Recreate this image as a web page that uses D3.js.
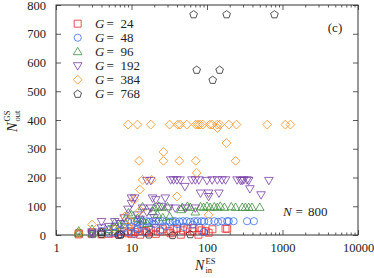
<!DOCTYPE html>
<html><head><meta charset="utf-8">
<script src="https://cdn.jsdelivr.net/npm/d3@7"></script>
<style>
body{margin:0;background:#fff}
svg{display:block}
</style>
</head><body>
<svg id="c" width="374" height="278"></svg>
<script>
// ---- data ----
const xTicks = [1, 10, 100, 1000, 10000];
const yTicks = [0, 100, 200, 300, 400, 500, 600, 700, 800];
const groupLabels = ["24", "48", "96", "192", "384", "768"];
const colors = ["#e8292b", "#3a6fe8", "#3f8f3f", "#7a3fa8", "#ff8c1a", "#2a2a2a"];
const shapes = ["square", "circle", "triUp", "triDown", "diamond", "pentagon"];

const g24 = [[2,2],[2,6],[3,3],[3,8],[4,2],[4,10],[5,4],[6,6],[7,2],[8,12],[9,6],[9.8,13],[10,3],[11,10],[12,20],[13,1],[14,14],[15.5,13],[16,8],[18,18],[21,24],[21,4],[24,12],[26,20],[31,13],[33,6],[36,20],[40,22],[45,1],[48,16],[55,22],[64,13],[66,24],[77,1],[78,24],[85,16],[96,13],[105,8],[118,20],[176,22],[185,22]];
const g48 = [[9,46],[10,46],[11,48],[12,46],[13,48],[14,47],[16,48],[17,46],[19,48],[21,48],[23,47],[26,48],[29,48],[32,46],[35,48],[38,48],[43,47],[48,48],[54,48],[60,46],[68,48],[75,48],[85,48],[92,47],[105,48],[125,48],[140,46],[158,48],[185,48],[194,48],[225,48],[339,48],[418,48],
  [3,3],[4,14],[5,6],[5,20],[6,8],[6,30],[7,16],[7,2],[8,24],[8,38],[9,10],[10,30],[11,4],[12,20],[13,36],[15,10],[17,28],[20,38],[24,16],[28,30],[40,38],[50,28],[65,36],[90,10]];
const g96 = [[14,98],[20,95],[23,100],[25,96],[30,98],[47,96],[55,100],[60,96],[82,98],[90,96],[100,100],[110,96],[125,98],[137,96],[150,100],[170,96],[210,98],[239,96],[293,96],[323,96],[357,96],[395,96],[500,96],
  [2,6],[2,14],[3,4],[3,20],[4,10],[5,18],[6,26],[6,43],[7,34],[8,50],[9.1,77],[10,70],[12,58],[14,52],[16,40],[19,82],[22,72],[26,60],[32,64],[45,88],[70,80]];
const g192 = [[16,190],[18,190],[33,192],[36,192],[40,192],[44,192],[63,192],[70,192],[78,192],[100,190],[117,192],[137,192],[158,192],[176,192],[250,192],[278,190],[292,190],[307,192],[340,192],[357,190],[660,190],
  [51,169],[370,161],[520,140],[82,146],[105,146],[144,146],[105,134],[10,129],[11,129],[19,129],[28,129],[21,123],[31,94],[38,94],[52,94],[70,94],[14,94],[18,94],[25,100],
  [4,47],[6,47],[3,11],[3,5],[4,25],[5,30],[7,40],[8,60],[9,90],[10,110],[12,70],[13,55],[16,80],[20,60]];
const g384 = [[9,384],[12,384],[18,384],[32,384],[41,384],[44,384],[54,384],[71,384],[76,384],[81,384],[88,384],[109,384],[117,384],[137,372],[137,384],[148,384],[195,384],[246,384],[627,384],[1092,384],[1271,384],
  [26.5,289],[12.6,258],[26.5,258],[43,258],[71,258],[239,258],[181,320],[73,216],[14,192],[18.5,192],[12.9,158],[10.9,123],[40,134],[105,70],[3,36],[2,7],[8.2,65],[6,20],[10,45],[13,85],[9,30]];
const g768 = [[66.5,768],[182,768],[782,768],[73,575],[147,575],[119,540],[4,4],[4,10],[6.7,1],[7.2,2],[17,2],[35,0],[60,3]];
const seriesData = [g24, g48, g96, g192, g384, g768];

// ---- layout ----
const FONT = "'Liberation Serif', 'Times New Roman', serif";
const L = 56, R = 358, T = 5, B = 235;
const svg = d3.select("#c");
const x = d3.scaleLog().domain([1, 10000]).range([L, R]);
const y = d3.scaleLinear().domain([0, 800]).range([B, T]);

function shapePath(t) {
  const p = d3.path();
  if (t === "square") { p.rect(-3.5, -3.5, 7, 7); }
  else if (t === "circle") { p.arc(0, 0, 3.6, 0, 2 * Math.PI); p.closePath(); }
  else if (t === "triUp") { p.moveTo(0, -4.4); p.lineTo(4.3, 3); p.lineTo(-4.3, 3); p.closePath(); }
  else if (t === "triDown") { p.moveTo(0, 4.4); p.lineTo(4.3, -3); p.lineTo(-4.3, -3); p.closePath(); }
  else if (t === "diamond") { p.moveTo(0, -4.4); p.lineTo(4.4, 0); p.lineTo(0, 4.4); p.lineTo(-4.4, 0); p.closePath(); }
  else if (t === "pentagon") {
    for (let i = 0; i < 5; i++) {
      const a = -Math.PI / 2 + i * 2 * Math.PI / 5;
      const px = 4 * Math.cos(a), py = 4 * Math.sin(a) + 0.4;
      if (i === 0) p.moveTo(px, py); else p.lineTo(px, py);
    }
    p.closePath();
  }
  return p.toString();
}

function txt(parent, xx, yy, s, size, italic) {
  return parent.append("text").attr("x", xx).attr("y", yy)
    .style("font-family", FONT).style("font-size", size + "px")
    .style("font-style", italic ? "italic" : "normal").attr("fill", "#222").text(s);
}

// axes
const minor = [];
for (let e = 0; e < 4; e++) for (let m = 2; m <= 9; m++) minor.push(m * Math.pow(10, e));

function styleAxis(g) {
  g.attr("font-family", null);
  g.select(".domain").remove();
  g.selectAll(".tick line").attr("stroke", "#333").attr("stroke-width", 0.8);
  g.selectAll("text").style("font-family", FONT).style("font-size", "12.5px").attr("fill", "#222");
}
svg.append("g").attr("transform", `translate(0,${B})`)
  .call(d3.axisBottom(x).tickValues(xTicks).tickFormat(d3.format("d")).tickSize(-5).tickPadding(8)).call(styleAxis);
svg.append("g").attr("transform", `translate(0,${B})`)
  .call(d3.axisBottom(x).tickValues(minor).tickFormat("").tickSize(-2.5)).call(styleAxis);
svg.append("g").attr("transform", `translate(0,${T})`)
  .call(d3.axisTop(x).tickValues(xTicks).tickFormat("").tickSize(-5)).call(styleAxis);
svg.append("g").attr("transform", `translate(0,${T})`)
  .call(d3.axisTop(x).tickValues(minor).tickFormat("").tickSize(-2.5)).call(styleAxis);
svg.append("g").attr("transform", `translate(${L},0)`)
  .call(d3.axisLeft(y).tickValues(yTicks).tickSize(-5).tickPadding(10)).call(styleAxis);
svg.append("g").attr("transform", `translate(${R},0)`)
  .call(d3.axisRight(y).tickValues(yTicks).tickFormat("").tickSize(-5)).call(styleAxis);

svg.append("rect").attr("x", L).attr("y", T).attr("width", R - L).attr("height", B - T)
  .attr("fill", "none").attr("stroke", "#333").attr("stroke-width", 1);

// points
seriesData.forEach((data, i) => {
  svg.append("g").selectAll("path").data(data).join("path")
    .attr("transform", d => `translate(${x(d[0])},${y(d[1])})`)
    .attr("d", shapePath(shapes[i]))
    .attr("fill", "none").attr("stroke", colors[i]).attr("stroke-width", 0.8);
});

// legend
const leg = svg.append("g");
groupLabels.forEach((lab, i) => {
  const cy = 23.7 + i * 14;
  leg.append("path").attr("transform", `translate(77.7,${cy})`).attr("d", shapePath(shapes[i]))
    .attr("fill", "none").attr("stroke", colors[i]).attr("stroke-width", 0.8);
  txt(leg, 95, cy + 4, "G", 13, true);
  txt(leg, 106.5, cy + 4, "=", 13, false);
  txt(leg, 120.5, cy + 4, lab, 13, false);
});

// annotations
svg.append("text").attr("x", 335).attr("y", 32).attr("text-anchor", "middle")
  .style("font-family", FONT).style("font-size", "13px").attr("fill", "#222").text("(c)");
txt(svg, 283, 216, "N", 13, true);
txt(svg, 295.5, 216, "=", 13, false);
txt(svg, 308, 216, "800", 13, false);

// x label
const xl = svg.append("g").attr("transform", "translate(195,270)");
txt(xl, 0, 0, "N", 14, true);
txt(xl, 10.5, -6.5, "ES", 8.5, false);
txt(xl, 10.5, 3, "in", 8.5, false);

// y label
const yl = svg.append("g").attr("transform", "translate(17,132) rotate(-90)");
txt(yl, 0, 0, "N", 14, true);
txt(yl, 10.5, -7.5, "GS", 8.5, false);
txt(yl, 10.5, 3, "out", 8.5, false);
</script>
</body></html>
